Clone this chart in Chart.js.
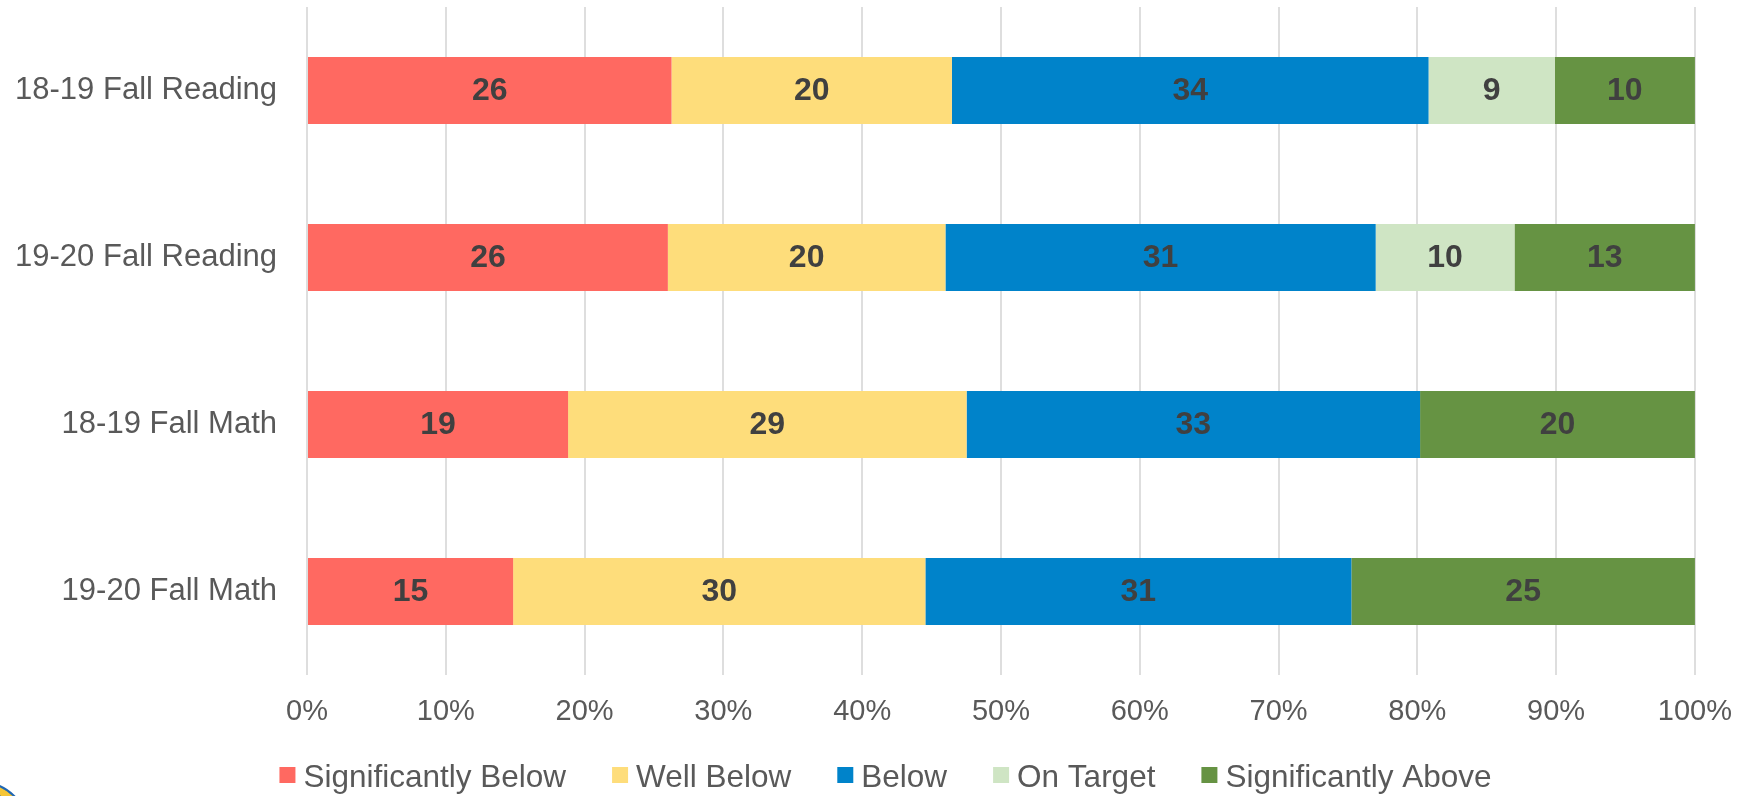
<!DOCTYPE html>
<html>
<head>
<meta charset="utf-8">
<script src="https://cdn.jsdelivr.net/npm/chart.js@4.4.1/dist/chart.umd.min.js"></script>
<style>
  html, body { margin: 0; padding: 0; background: #fff; overflow: hidden; }
  #wrap { position: relative; width: 1752px; height: 796px; }
  #logo {
    position: absolute; left: -70px; top: 781px; width: 96px; height: 96px;
    border-radius: 50%; background: #f6c636; border: 2px solid #1f66b3;
    box-shadow: inset 0 0 0 7px #f6c636, inset 0 0 0 11px #1f66b3;
  }
</style>
</head>
<body>
<div id="wrap">
  <canvas id="myChart" width="1752" height="796"></canvas>
  <div id="logo"></div>
</div>
<script>
let categories = ["18-19 Fall Reading", "19-20 Fall Reading", "18-19 Fall Math", "19-20 Fall Math"];
let seriesNames = ["Significantly Below", "Well Below", "Below", "On Target", "Significantly Above"];
let seriesColors = ["#ff6961", "#fedd7b", "#0083ca", "#cfe5c4", "#669343"];

let significantlyBelow = [26, 26, 19, 15];
let wellBelow = [20, 20, 29, 30];
let below = [34, 31, 33, 31];
let onTarget = [9, 10, 0, 0];
let significantlyAbove = [10, 13, 20, 25];

let xTicks = [0, 10, 20, 30, 40, 50, 60, 70, 80, 90, 100];

const fontFamily = "'Liberation Sans', Arial, sans-serif";
let series = [significantlyBelow, wellBelow, below, onTarget, significantlyAbove];

// 100% stacked: each bar is scaled by its row total
let totals = categories.map((c, i) => series.reduce((s, arr) => s + arr[i], 0));

let datasets = series.map((arr, k) => ({
    label: seriesNames[k],
    backgroundColor: seriesColors[k],
    borderWidth: 0,
    raw: arr,
    data: arr.map((v, i) => v / totals[i] * 100)
}));

const valueLabels = {
    id: "valueLabels",
    afterDatasetsDraw(chart) {
        const ctx = chart.ctx;
        ctx.save();
        ctx.font = "bold 32px " + fontFamily;
        ctx.fillStyle = "#404040";
        ctx.textAlign = "center";
        ctx.textBaseline = "middle";
        chart.data.datasets.forEach((ds, k) => {
            chart.getDatasetMeta(k).data.forEach((bar, i) => {
                if (!ds.raw[i]) return;
                const p = bar.getCenterPoint();
                ctx.fillText(ds.raw[i], p.x, p.y + 1);
            });
        });
        ctx.restore();
    }
};

const bottomLegend = {
    id: "bottomLegend",
    afterDraw(chart) {
        const ctx = chart.ctx;
        const box = 16, gap = 8, spacing = 46, y = 778;
        ctx.save();
        ctx.font = "31.5px " + fontFamily;
        ctx.textBaseline = "middle";
        let widths = chart.data.datasets.map(ds => ctx.measureText(ds.label).width);
        let total = widths.reduce((s, w) => s + box + gap + w, 0) + spacing * (widths.length - 1);
        let x = chart.width / 2 + 9.5 - total / 2;
        chart.data.datasets.forEach((ds, k) => {
            ctx.fillStyle = ds.backgroundColor;
            ctx.fillRect(x, y - box / 2 - 3, box, box);
            ctx.fillStyle = "#595959";
            ctx.fillText(ds.label, x + box + gap, y);
            x += box + gap + widths[k] + spacing;
        });
        ctx.restore();
    }
};

const conf = {
    type: "bar",
    data: {
        labels: categories,
        datasets
    },
    options: {
        indexAxis: "y",
        responsive: false,
        animation: false,
        layout: { padding: { top: 7, right: 53, bottom: 0, left: 0 } },
        plugins: {
            legend: { display: false },
            tooltip: { enabled: false }
        },
        datasets: {
            bar: { categoryPercentage: 1, barPercentage: 0.4 }
        },
        scales: {
            x: {
                stacked: true,
                min: 0,
                max: 100,
                afterBuildTicks(scale) {
                    scale.ticks = xTicks.map(v => ({ value: v }));
                },
                afterFit(scale) { scale.height = 121; },
                grid: { color: "#dedede", lineWidth: 2, drawTicks: false },
                border: { display: false },
                ticks: {
                    padding: 20,
                    color: "#595959",
                    font: { family: fontFamily, size: 29 },
                    callback: v => v + "%"
                }
            },
            y: {
                stacked: true,
                afterFit(scale) {
                    scale.width = 307;
                    scale.paddingTop = 0;
                    scale.paddingBottom = 0;
                },
                grid: { display: false, drawTicks: false },
                border: { display: false },
                ticks: {
                    padding: 30,
                    color: "#595959",
                    font: { family: fontFamily, size: 31 }
                }
            }
        }
    },
    plugins: [valueLabels, bottomLegend]
};

let grafico = new Chart(document.querySelector("#myChart"), conf);
</script>
</body>
</html>
